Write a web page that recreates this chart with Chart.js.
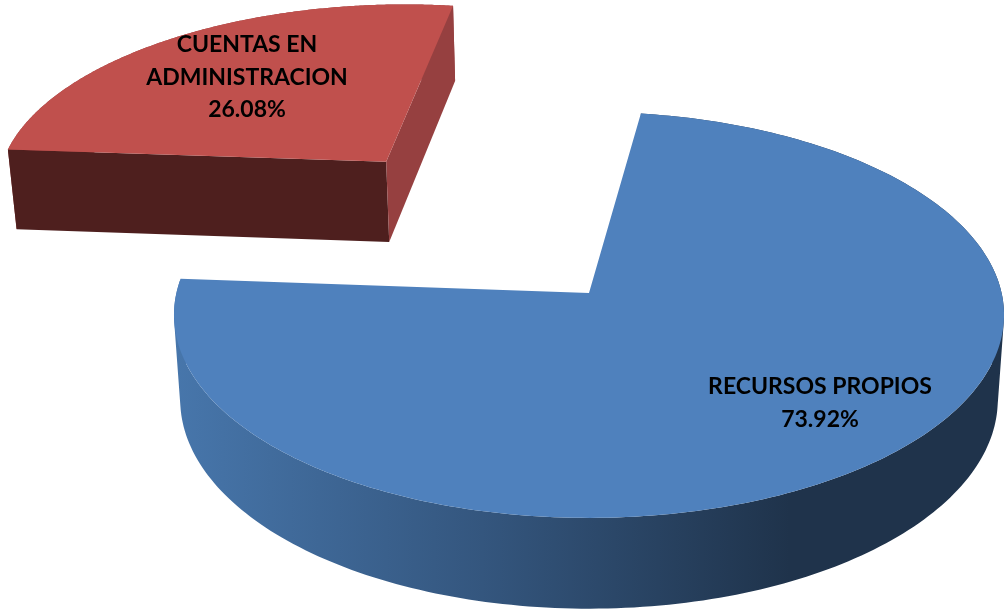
<!DOCTYPE html>
<html>
<head>
<meta charset="utf-8">
<title>Recursos</title>
<script src="https://cdn.jsdelivr.net/npm/chart.js@4"></script>
<style>
  html, body { margin: 0; padding: 0; background: #fff; }
  canvas { display: block; }
</style>
</head>
<body>
<canvas id="chartRecursos" width="1005" height="614"></canvas>
<script>
var categorias = ['RECURSOS PROPIOS', 'CUENTAS EN ADMINISTRACION'];
var lineasEtiqueta = [['RECURSOS PROPIOS'], ['CUENTAS EN', 'ADMINISTRACION']];
var porcentajes = [73.92, 26.08];

var coresTapa = ['#4f81bd', '#c0504d'];
var coresInicio = ['#1f334b', '#4e1f1e'];
var coresFin = ['#1f334b', '#964040'];

// perspectiva del disco: centro, radios, fuga y grosor
var vista = { cx: 589, cy: 293, a: 412.6, b: 200.6, q: 0.108, grosor: 84, fuga: 0.015 };
var gr = Math.PI / 180;

function proyectar(u, v, z) {
  var w = 1 - vista.q * v;
  var s = 1 - vista.fuga * z;
  return {
    x: vista.cx + vista.a * u * s / w,
    y: vista.cy + (vista.b * v * s + vista.grosor * z) / w
  };
}

function trazar(ctx, puntos) {
  puntos.forEach(function (p, i) {
    if (i == 0) ctx.moveTo(p.x, p.y); else ctx.lineTo(p.x, p.y);
  });
  ctx.closePath();
}

function poligono(ctx, puntos, color) {
  ctx.beginPath();
  trazar(ctx, puntos);
  ctx.fillStyle = color;
  ctx.fill();
}

function area(q) {
  var s = 0;
  q.forEach(function (p, i) {
    var n = q[(i + 1) % q.length];
    s += p.x * n.y - n.x * p.y;
  });
  return s;
}

function dibujarPorcion(ctx, el, i) {
  var medio = (el.startAngle + el.endAngle) / 2 + 2 * gr;
  var d = el.options.offset / 100;
  var su = d * Math.cos(medio), sv = d * Math.sin(medio);

  var arriba = [], abajo = [];
  for (var k = 0; k <= 240; k++) {
    var ang = el.startAngle + (el.endAngle - el.startAngle) * k / 240;
    arriba.push(proyectar(su + Math.cos(ang), sv + Math.sin(ang), 0));
    abajo.push(proyectar(su + Math.cos(ang), sv + Math.sin(ang), 1));
  }
  var apice = proyectar(su, sv, 0);
  var apiceAbajo = proyectar(su, sv, 1);

  // pared curva: todos los tramos en un solo trazo y con el mismo sentido, asi no hay costuras
  var grad = ctx.createLinearGradient(175, 0, 790, 0);
  if (i == 0) {
    grad.addColorStop(0, '#4776ab');
    grad.addColorStop(0.5, '#34567e');
    grad.addColorStop(1, '#1f334b');
  } else {
    grad.addColorStop(0, coresFin[i]);
    grad.addColorStop(1, coresFin[i]);
  }
  ctx.beginPath();
  for (var t = 0; t < 240; t++) {
    var q = [arriba[t], arriba[t + 1], abajo[t + 1], abajo[t]];
    trazar(ctx, area(q) < 0 ? q.reverse() : q);
  }
  ctx.fillStyle = grad;
  ctx.fill();

  // caras de corte, solo se ven en la porcion menor
  if (el.endAngle - el.startAngle < Math.PI) {
    poligono(ctx, [apice, arriba[0], abajo[0], apiceAbajo], coresInicio[i]);
    poligono(ctx, [apice, arriba[240], abajo[240], apiceAbajo], coresFin[i]);
  }

  // tapa
  poligono(ctx, [apice].concat(arriba), coresTapa[i]);
}

var porciones3d = {
  id: 'porciones3d',
  beforeDatasetDraw: function (chart, args) {
    var ctx = chart.ctx;
    var arcos = chart.getDatasetMeta(args.index).data;
    dibujarPorcion(ctx, arcos[1], 1);
    dibujarPorcion(ctx, arcos[0], 0);
    return false;
  },
  afterDatasetsDraw: function (chart) {
    var ctx = chart.ctx;
    var sitios = [{ x: 820, y: 387 }, { x: 247, y: 45 }];
    ctx.fillStyle = '#000';
    ctx.font = 'bold 23px Lato';
    ctx.textAlign = 'center';
    ctx.textBaseline = 'middle';
    porcentajes.forEach(function (valor, i) {
      var lineas = lineasEtiqueta[i].concat(valor.toFixed(2) + '%');
      lineas.forEach(function (txt, n) {
        ctx.fillText(txt, sitios[i].x, sitios[i].y + n * 32.5);
      });
    });
  }
};

var ctxRecursos = document.getElementById('chartRecursos').getContext('2d');

var configRecursos = {
  type: 'pie',
  data: {
    labels: categorias,
    datasets: [{
      data: porcentajes,
      backgroundColor: coresTapa,
      borderWidth: 0,
      offset: [0, 88]
    }]
  },
  options: {
    responsive: false,
    animation: false,
    rotation: 8,
    plugins: {
      legend: { display: false },
      tooltip: { enabled: false }
    }
  },
  plugins: [porciones3d]
};

var chartRecursos = new Chart(ctxRecursos, configRecursos);
</script>
</body>
</html>
